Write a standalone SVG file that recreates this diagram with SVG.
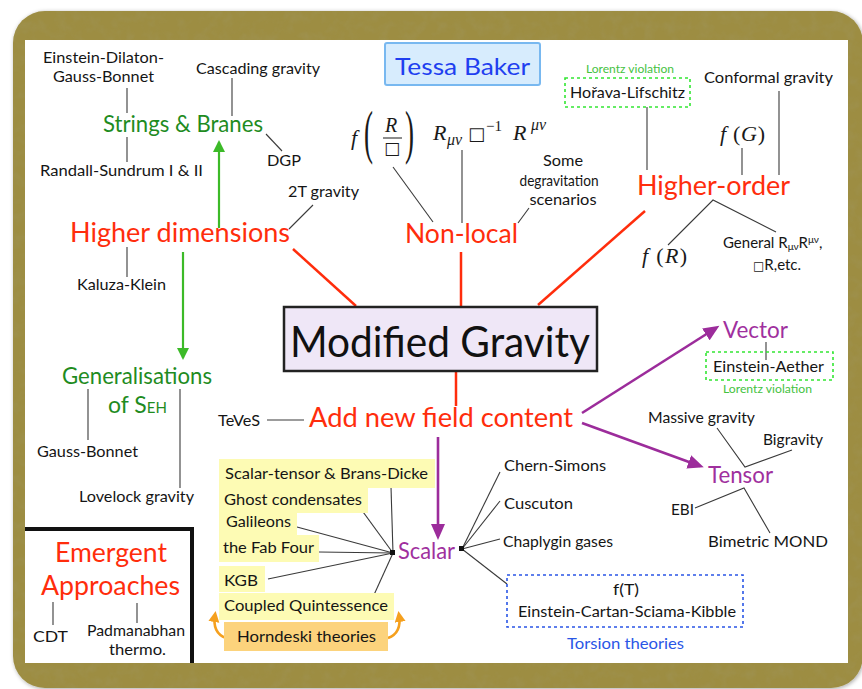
<svg xmlns="http://www.w3.org/2000/svg" width="862" height="689" viewBox="0 0 862 689">
<defs>
<style>
text{font-family:Lato,"Open Sans","DejaVu Sans",sans-serif}
.lbl{font-size:15px;fill:#151515}
.red{font-size:26px;fill:#ff2d0c}
.grn{font-size:23px;fill:#1f8c1f}
.pur{font-size:23px;fill:#a0309e}
.lv{font-size:10.5px;fill:#45c23f}
.m{font-family:"Liberation Serif","DejaVu Serif",serif;fill:#1a1a1a}
.i{font-style:italic}
.sq{font-family:"DejaVu Sans",sans-serif;fill:#1a1a1a}
.c{stroke:#3a3a3a;stroke-width:1.1;fill:none}
.r{stroke:#ff2d0c;stroke-width:2.5;fill:none}
.ga{stroke:#3cba28;stroke-width:2.2;fill:none}
.pa{stroke:#9c2c9b;stroke-width:2.6;fill:none}
.oa{stroke:#f5a01e;stroke-width:2.6;fill:none}
.yb{fill:#fdfbb4}
</style>
<marker id="ag" markerUnits="userSpaceOnUse" markerWidth="14" markerHeight="12" refX="10" refY="6" orient="auto"><path d="M0,0 L12,6 L0,12 z" fill="#3cba28"/></marker>
<marker id="ap" markerUnits="userSpaceOnUse" markerWidth="18" markerHeight="14" refX="12" refY="7" orient="auto"><path d="M0,0 L16,7 L0,14 z" fill="#9c2c9b"/></marker>
<marker id="ao" markerUnits="userSpaceOnUse" markerWidth="12" markerHeight="12" refX="7" refY="5.5" orient="auto"><path d="M0,0 L11,5.5 L0,11 z" fill="#f5a01e"/></marker>
<filter id="sh" x="-5%" y="-5%" width="110%" height="110%"><feDropShadow dx="1" dy="1" stdDeviation="2" flood-color="#000" flood-opacity="0.35"/></filter>
<filter id="grain" x="0" y="0" width="100%" height="100%">
<feTurbulence type="fractalNoise" baseFrequency="0.09" numOctaves="3" seed="5" result="n"/>
<feColorMatrix in="n" type="matrix" values="0 0 0 0 0.35  0 0 0 0 0.31  0 0 0 0 0.12  1.2 0 0 0 -0.5" result="d"/>
<feComposite in="d" in2="SourceGraphic" operator="in"/>
</filter>
</defs>

<g id="frame">
<rect x="13" y="11" width="850" height="677" rx="32" fill="#9d8d43" filter="url(#sh)"/>
<rect x="13" y="11" width="850" height="677" rx="32" fill="#9d8d43" filter="url(#grain)" opacity="0.6"/>
<rect x="25" y="40" width="823" height="623" fill="#ffffff"/>
</g>

<g id="connectors">
<line class="c" x1="127" y1="88" x2="127" y2="113"/>
<line class="c" x1="127" y1="137" x2="127" y2="162"/>
<line class="c" x1="232" y1="78" x2="232" y2="116"/>
<line class="c" x1="266" y1="134" x2="282" y2="151"/>
<line class="c" x1="313" y1="205" x2="289" y2="229"/>
<line class="c" x1="127" y1="247" x2="127" y2="277"/>
<line class="c" x1="88" y1="389" x2="88" y2="440"/>
<line class="c" x1="180" y1="389" x2="180" y2="488"/>
<line class="c" x1="267" y1="420" x2="304" y2="420"/>
<line class="c" x1="393" y1="167" x2="433" y2="222"/>
<line class="c" x1="462" y1="150" x2="462" y2="223"/>
<line class="c" x1="529" y1="208" x2="518" y2="223"/>
<line class="c" x1="647" y1="107" x2="647" y2="170"/>
<line class="c" x1="779" y1="91" x2="779" y2="175"/>
<line class="c" x1="742" y1="148" x2="742" y2="175"/>
<polyline class="c" points="668,245 713,200 776,232"/>
<line class="c" x1="766" y1="342" x2="766" y2="360"/>
<polyline class="c" points="717,428 745,467 792,450"/>
<polyline class="c" points="695,508 744,488 770,533"/>
<line class="c" x1="462" y1="549" x2="500" y2="472"/>
<line class="c" x1="462" y1="549" x2="500" y2="501"/>
<line class="c" x1="462" y1="549" x2="500" y2="539"/>
<line class="c" x1="462" y1="549" x2="507" y2="584"/>
<line class="c" x1="393" y1="553" x2="391" y2="487"/>
<line class="c" x1="393" y1="553" x2="358" y2="505"/>
<line class="c" x1="393" y1="553" x2="297" y2="527"/>
<line class="c" x1="393" y1="553" x2="319" y2="552"/>
<line class="c" x1="393" y1="553" x2="268" y2="579"/>
<line class="c" x1="393" y1="553" x2="373" y2="597"/>
<line class="c" x1="53" y1="602" x2="53" y2="625"/>
<line class="c" x1="137" y1="603" x2="137" y2="623"/>
<rect x="390" y="550" width="5" height="5" fill="#111"/>
<rect x="459" y="546" width="5" height="5" fill="#111"/>
<line class="r" x1="293" y1="249" x2="356" y2="306"/>
<line class="r" x1="461" y1="252" x2="461" y2="307"/>
<line class="r" x1="538" y1="305" x2="645" y2="211"/>
<line class="r" x1="456" y1="371" x2="456" y2="406"/>
<line class="ga" x1="219" y1="228" x2="219" y2="142" marker-end="url(#ag)"/>
<line class="ga" x1="183" y1="252" x2="183" y2="358" marker-end="url(#ag)"/>
<line class="pa" x1="582" y1="413" x2="716" y2="328" marker-end="url(#ap)"/>
<line class="pa" x1="582" y1="423" x2="700" y2="466" marker-end="url(#ap)"/>
<line class="pa" x1="438" y1="437" x2="438" y2="536" marker-end="url(#ap)"/>
<path class="oa" d="M226,638 Q212,633 215,615" marker-end="url(#ao)"/>
<path class="oa" d="M388,638 Q402,633 399,615" marker-end="url(#ao)"/>
</g>

<g id="title">
<rect x="385" y="43" width="155" height="42" rx="2" fill="#d7ecfd" stroke="#78b8f0" stroke-width="2"/>
<text x="395" y="75" font-size="24" fill="#1f3ff0" textLength="135" lengthAdjust="spacingAndGlyphs">Tessa Baker</text>
</g>

<g id="modified-gravity">
<rect x="284" y="307" width="313" height="64" fill="#efe7f7" stroke="#222" stroke-width="2.5"/>
<text x="290" y="357" font-size="42" fill="#111" textLength="300" lengthAdjust="spacingAndGlyphs">Modified Gravity</text>
</g>

<g id="higher-dimensions">
<text class="red" x="70" y="242" textLength="220" lengthAdjust="spacingAndGlyphs">Higher dimensions</text>
<text class="lbl" x="288" y="197" textLength="71" lengthAdjust="spacingAndGlyphs">2T gravity</text>
<text class="lbl" x="77" y="290" textLength="89" lengthAdjust="spacingAndGlyphs">Kaluza-Klein</text>
</g>

<g id="strings-branes">
<text class="grn" x="103" y="132" textLength="160" lengthAdjust="spacingAndGlyphs">Strings &amp; Branes</text>
<text class="lbl" x="43" y="63" textLength="121" lengthAdjust="spacingAndGlyphs">Einstein-Dilaton-</text>
<text class="lbl" x="53" y="82" textLength="101" lengthAdjust="spacingAndGlyphs">Gauss-Bonnet</text>
<text class="lbl" x="40" y="176" textLength="163" lengthAdjust="spacingAndGlyphs">Randall-Sundrum I &amp; II</text>
<text class="lbl" x="196" y="74" textLength="124" lengthAdjust="spacingAndGlyphs">Cascading gravity</text>
<text class="lbl" x="267" y="166" textLength="34" lengthAdjust="spacingAndGlyphs">DGP</text>
</g>

<g id="generalisations">
<text class="grn" x="62" y="384" textLength="150" lengthAdjust="spacingAndGlyphs">Generalisations</text>
<text class="grn" x="108" y="413">of S<tspan font-size="15">EH</tspan></text>
<text class="lbl" x="37" y="457" textLength="101" lengthAdjust="spacingAndGlyphs">Gauss-Bonnet</text>
<text class="lbl" x="79" y="502" textLength="115" lengthAdjust="spacingAndGlyphs">Lovelock gravity</text>
</g>

<g id="non-local">
<text class="red" x="405" y="243" textLength="113" lengthAdjust="spacingAndGlyphs">Non-local</text>
<text class="m i" x="351" y="145" font-size="22">f</text>
<text class="m" transform="translate(364,152) scale(0.5,1.1)" font-size="54">(</text>
<text class="m" transform="translate(405,152) scale(0.5,1.1)" font-size="54">)</text>
<text class="m i" x="385" y="132" font-size="20">R</text>
<line x1="383" y1="138" x2="402" y2="138" stroke="#1a1a1a" stroke-width="1"/>
<text class="sq" x="384" y="154" font-size="17">□</text>
<text class="m i" x="433" y="140" font-size="22">R</text>
<text class="m i" x="447" y="145" font-size="16">μν</text>
<text class="sq" x="468" y="140" font-size="18">□</text>
<text class="m" x="486" y="131" font-size="15">−1</text>
<text class="m i" x="513" y="140" font-size="22">R</text>
<text class="m i" x="531" y="130" font-size="16">μν</text>
<text class="lbl" x="563" y="166" text-anchor="middle" textLength="40" lengthAdjust="spacingAndGlyphs">Some</text>
<text class="lbl" x="559" y="186" text-anchor="middle" textLength="79" lengthAdjust="spacingAndGlyphs">degravitation</text>
<text class="lbl" x="563" y="205" text-anchor="middle" textLength="67" lengthAdjust="spacingAndGlyphs">scenarios</text>
</g>

<g id="higher-order">
<text class="red" x="637" y="195" textLength="153" lengthAdjust="spacingAndGlyphs">Higher-order</text>
<text class="lv" x="586" y="73" textLength="88" lengthAdjust="spacingAndGlyphs">Lorentz violation</text>
<rect x="565" y="78" width="125" height="29" fill="none" stroke="#33e633" stroke-width="1.6" stroke-dasharray="3 3"/>
<text class="lbl" x="570" y="98" textLength="115" lengthAdjust="spacingAndGlyphs">Hořava-Lifschitz</text>
<text class="lbl" x="704" y="83" textLength="129" lengthAdjust="spacingAndGlyphs">Conformal gravity</text>
<text class="m" x="720" y="141" font-size="22" textLength="45"><tspan class="i">f</tspan> (<tspan class="i">G</tspan>)</text>
<text class="m" x="642" y="263" font-size="22" textLength="45"><tspan class="i">f</tspan> (<tspan class="i">R</tspan>)</text>
<text class="lbl" x="723" y="248">General R<tspan font-size="10" dy="2">μν</tspan><tspan dy="-2">R</tspan><tspan font-size="10" dy="-5">μν</tspan><tspan dy="5">,</tspan></text>
<text class="lbl" x="753" y="270"><tspan class="sq" font-size="12">□</tspan>R,etc.</text>
</g>

<g id="add-new-field-content">
<text class="red" x="309" y="427" textLength="264" lengthAdjust="spacingAndGlyphs">Add new field content</text>
<text class="lbl" x="218" y="426" textLength="42" lengthAdjust="spacingAndGlyphs">TeVeS</text>
</g>

<g id="vector">
<text class="pur" x="723" y="338" textLength="65" lengthAdjust="spacingAndGlyphs">Vector</text>
<rect x="706" y="352" width="127" height="28" fill="none" stroke="#33e633" stroke-width="1.6" stroke-dasharray="3 3"/>
<text class="lbl" x="713" y="372" textLength="111" lengthAdjust="spacingAndGlyphs">Einstein-Aether</text>
<text class="lv" x="723" y="393" textLength="89" lengthAdjust="spacingAndGlyphs">Lorentz violation</text>
</g>

<g id="tensor">
<text class="pur" x="708" y="483" textLength="65" lengthAdjust="spacingAndGlyphs">Tensor</text>
<text class="lbl" x="648" y="423" textLength="107" lengthAdjust="spacingAndGlyphs">Massive gravity</text>
<text class="lbl" x="763" y="445" textLength="60" lengthAdjust="spacingAndGlyphs">Bigravity</text>
<text class="lbl" x="671" y="515" textLength="23" lengthAdjust="spacingAndGlyphs">EBI</text>
<text class="lbl" x="708" y="547" textLength="120" lengthAdjust="spacingAndGlyphs">Bimetric MOND</text>
</g>

<g id="scalar">
<text class="pur" x="398" y="559" textLength="57" lengthAdjust="spacingAndGlyphs">Scalar</text>
<text class="lbl" x="504" y="471" textLength="102" lengthAdjust="spacingAndGlyphs">Chern-Simons</text>
<text class="lbl" x="504" y="509" textLength="69" lengthAdjust="spacingAndGlyphs">Cuscuton</text>
<text class="lbl" x="503" y="547" textLength="110" lengthAdjust="spacingAndGlyphs">Chaplygin gases</text>
</g>

<g id="torsion">
<rect x="507" y="575" width="236" height="52" fill="none" stroke="#2a56e6" stroke-width="1.6" stroke-dasharray="3 3"/>
<text class="lbl" x="626" y="595" text-anchor="middle" textLength="26" lengthAdjust="spacingAndGlyphs">f(T)</text>
<text class="lbl" x="518" y="617" textLength="218" lengthAdjust="spacingAndGlyphs">Einstein-Cartan-Sciama-Kibble</text>
<text class="lbl" x="567" y="649" style="fill:#2a56e6" textLength="117" lengthAdjust="spacingAndGlyphs">Torsion theories</text>
</g>

<g id="scalar-theories">
<rect class="yb" x="219" y="459" width="216" height="29"/>
<rect class="yb" x="219" y="488" width="149" height="25"/>
<rect class="yb" x="219" y="513" width="78" height="22"/>
<rect class="yb" x="219" y="535" width="100" height="27"/>
<rect class="yb" x="219" y="566" width="46" height="26"/>
<rect class="yb" x="219" y="593" width="175" height="27"/>
<rect x="224" y="622" width="164" height="29" fill="#fcd37c"/>
<text class="lbl" x="225" y="479" textLength="203" lengthAdjust="spacingAndGlyphs">Scalar-tensor &amp; Brans-Dicke</text>
<text class="lbl" x="224" y="505" textLength="138" lengthAdjust="spacingAndGlyphs">Ghost condensates</text>
<text class="lbl" x="226" y="527" textLength="65" lengthAdjust="spacingAndGlyphs">Galileons</text>
<text class="lbl" x="223" y="553" textLength="91" lengthAdjust="spacingAndGlyphs">the Fab Four</text>
<text class="lbl" x="224" y="586" textLength="34" lengthAdjust="spacingAndGlyphs">KGB</text>
<text class="lbl" x="224" y="611" textLength="164" lengthAdjust="spacingAndGlyphs">Coupled Quintessence</text>
<text class="lbl" x="237" y="642" textLength="139" lengthAdjust="spacingAndGlyphs">Horndeski theories</text>
</g>

<g id="emergent">
<path d="M25,529 H192 V663" fill="none" stroke="#111" stroke-width="4"/>
<text class="red" x="55" y="562" textLength="112" lengthAdjust="spacingAndGlyphs">Emergent</text>
<text class="red" x="41" y="595" textLength="139" lengthAdjust="spacingAndGlyphs">Approaches</text>
<text class="lbl" x="33" y="642" textLength="35" lengthAdjust="spacingAndGlyphs">CDT</text>
<text class="lbl" x="87" y="636" textLength="98" lengthAdjust="spacingAndGlyphs">Padmanabhan</text>
<text class="lbl" x="109" y="655" textLength="57" lengthAdjust="spacingAndGlyphs">thermo.</text>
</g>
</svg>
